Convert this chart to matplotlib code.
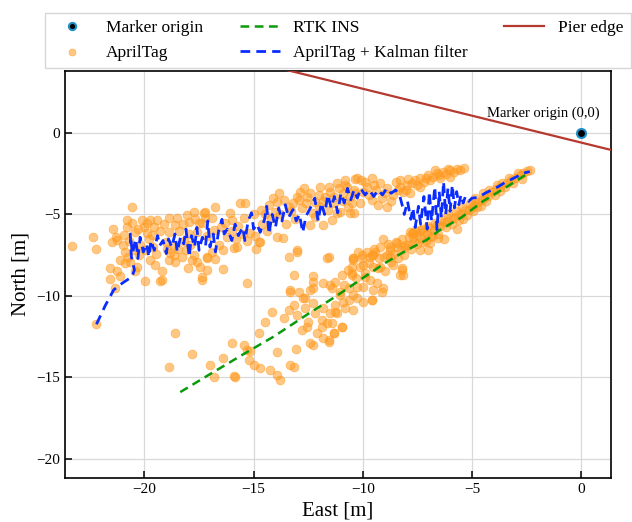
import matplotlib
matplotlib.use("Agg")
import matplotlib.pyplot as plt
import numpy as np

plt.rcParams['font.family'] = ['Liberation Serif', 'DejaVu Serif']
plt.rcParams['mathtext.fontset'] = 'stix'

# ---------------- data ----------------
apriltag_pts = [
    # upper arm, left
    (-23.34,-6.91),(-22.38,-6.38),(-22.2,-7.1),(-22.2,-11.74),(-21.44,-5.87),(-21.5,-6.7),(-21.25,-6.56),
    (-21.59,-8.3),(-21.59,-8.98),(-21.25,-8.5),(-21.33,-9.53),(-21.1,-7.79),(-21.1,-8.77),(-20.95,-6.26),
    (-20.8,-5.34),(-20.57,-4.56),(-20.8,-5.75),(-20.57,-5.54),(-20.64,-7.9),(-20.87,-8.0),(-20.42,-8.5),
    (-20.35,-8.2),(-20.11,-5.34),(-20.04,-5.75),(-19.73,-5.34),(-19.42,-5.34),(-19.57,-5.75),(-19.88,-6.15),
    (-19.96,-7.18),(-19.73,-7.79),(-19.5,-8.1),(-19.96,-9.06),(-19.19,-8.5),(-19.19,-9.02),(-18.89,-5.23),
    (-18.5,-5.23),(-18.58,-5.62),(-18.89,-6.05),(-18.81,-7.38),(-18.89,-7.79),(-18.58,-7.9),(-18.66,-7.5),
    (-18.05,-5.03),(-17.74,-4.83),(-17.97,-5.44),(-18.12,-7.2),(-17.74,-7.5),(-17.59,-7.9),(-17.44,-8.2),
    (-17.36,-8.85),(-17.29,-4.93),(-17.21,-5.23),(-17.13,-7.6),(-17.13,-6.3),
    (-20.7,-6.6),(-20.5,-7.2),(-20.3,-5.9),(-20.2,-6.9),(-19.8,-6.5),(-19.6,-7.0),(-19.3,-6.0),(-19.0,-6.7),
    (-18.7,-6.9),(-18.4,-6.0),(-18.3,-7.6),(-18.2,-6.6),(-17.9,-6.9),(-17.8,-7.8),(-17.6,-6.1),(-17.5,-5.5),
    (-20.9,-7.3),(-21.0,-6.9),(-19.1,-5.6),(-18.0,-8.3),
    (-21.3,-6.4),(-20.75,-7.6),(-20.25,-7.5),(-19.9,-5.55),(-19.45,-7.4),(-18.95,-7.1),(-18.45,-7.1),
    (-18.25,-5.6),(-17.95,-6.2),(-17.7,-5.3),(-20.45,-6.1),(-19.65,-6.25),
    # upper arm, middle
    (-17.21,-4.83),(-16.76,-4.52),(-17.36,-5.54),(-16.83,-5.95),(-16.9,-7.28),(-16.76,-7.75),(-17.13,-7.67),
    (-16.38,-7.18),(-16.38,-8.36),(-15.92,-7.08),(-15.77,-7.0),(-15.61,-4.31),(-15.38,-4.31),(-15.99,-5.34),
    (-15.46,-5.24),(-15.16,-6.15),(-14.77,-6.67),(-14.93,-6.3),(-14.65,-4.72),(-14.31,-4.42),(-13.93,-4.21),
    (-13.86,-3.7),(-13.63,-4.1),(-14.01,-4.83),(-13.93,-6.36),(-13.67,-6.46),(-13.4,-7.59),(-13.02,-7.18),
    (-13.4,-4.52),(-13.02,-3.9),(-12.87,-3.6),(-12.56,-3.9),(-12.41,-3.7),(-12.18,-4.21),(-12.18,-5.13),
    (-12.41,-5.64),(-11.95,-3.29),(-11.57,-3.29),(-11.72,-3.9),(-11.34,-4.31),(-11.19,-4.93),(-11.8,-5.64),
    (-11.42,-5.34),(-11.57,-7.63),(-10.73,-3.29),(-10.42,-3.5),(-10.89,-3.7),(-10.66,-4.52),(-11.04,-4.83),
    (-10.42,-4.93),(-10.35,-2.84),(-10.43,-7.69),(-10.5,-8.71),(-10.66,-8.4),(-13.17,-8.71),(-12.26,-8.8),
    (-17.13,-8.4),
    (-16.5,-5.8),(-16.2,-6.4),(-16.0,-6.0),(-15.7,-5.7),(-15.3,-6.6),(-15.0,-5.0),(-14.6,-5.6),(-14.4,-6.0),
    (-14.2,-5.2),(-13.8,-5.0),(-13.5,-5.6),(-13.3,-4.8),(-13.1,-5.3),(-12.8,-4.6),(-12.6,-4.3),(-12.3,-4.9),
    (-12.0,-4.5),(-11.8,-4.2),(-11.5,-3.6),(-11.3,-3.9),(-11.1,-3.4),(-10.9,-4.2),(-16.6,-6.9),(-15.5,-6.2),
    (-14.9,-7.1),(-16.1,-4.9),
    (-16.9,-5.2),(-16.3,-5.5),(-15.8,-6.5),(-14.5,-5.0),(-13.2,-4.3),(-12.7,-3.4),(-12.0,-3.8),(-11.6,-4.7),
    (-11.2,-3.1),(-10.8,-2.9),(-12.9,-4.1),(-14.1,-4.0),
    # upper arm, right
    (-10.27,-2.78),(-9.59,-2.78),(-9.82,-3.29),(-10.35,-3.7),(-10.5,-4.31),(-10.12,-4.31),(-8.9,-4.52),
    (-9.13,-4.0),(-8.29,-3.29),(-7.99,-3.19),(-7.76,-3.09),(-7.38,-2.78),(-7.0,-2.58),(-6.62,-2.48),
    (-6.31,-2.37),(-5.99,-2.27),(-5.69,-2.23),(-5.38,-2.15),(-7.84,-3.7),(-7.53,-3.19),(-6.92,-2.88),
    (-6.46,-2.78),(-6.0,-2.68),(-8.14,-3.6),
    (-9.9,-3.0),(-9.4,-3.5),(-9.2,-3.1),(-8.9,-3.4),(-8.6,-3.8),(-8.5,-3.0),(-8.7,-4.2),(-10.0,-3.6),
    (-9.6,-4.1),(-7.2,-3.0),(-6.8,-2.7),(-6.2,-2.5),(-5.8,-2.4),(-7.6,-2.9),(-8.0,-3.5),(-10.6,-3.9),
    (-10.58,-4.9),(-10.8,-3.2),(-9.3,-4.4),
    (-9.7,-3.8),(-9.0,-3.7),(-8.4,-3.5),(-8.3,-2.9),(-7.95,-2.85),(-7.4,-3.3),(-7.1,-2.75),(-6.7,-2.3),
    (-6.5,-2.55),(-6.1,-2.2),(-5.55,-2.3),(-9.5,-3.2),(-10.1,-2.9),
    # lower arm, right
    (-2.35,-2.27),(-2.65,-2.47),(-3.03,-2.78),(-3.41,-3.09),(-3.72,-3.29),(-4.1,-3.6),(-4.4,-3.9),
    (-4.71,-4.21),(-5.0,-4.52),(-5.32,-4.72),(-5.63,-5.03),(-6.0,-5.23),(-6.3,-5.44),(-6.6,-5.64),
    (-6.92,-5.84),(-7.23,-6.05),(-7.53,-6.26),(-7.68,-6.46),(-7.84,-6.05),(-8.07,-6.87),(-8.45,-6.97),
    (-8.75,-7.18),(-9.06,-6.52),(-9.43,-7.28),(-9.67,-7.59),(-10.05,-7.69),(-10.43,-7.8),(-10.5,-8.2),
    (-10.12,-8.2),(-6.92,-6.77),(-7.38,-7.18),(-7.76,-6.15),(-5.24,-5.03),(-4.79,-4.52),
    (-2.5,-2.35),(-2.8,-2.6),(-2.9,-2.45),(-3.2,-2.9),(-3.3,-2.75),(-3.6,-3.1),(-3.5,-3.3),(-3.9,-3.45),
    (-3.85,-3.2),(-4.2,-3.5),(-4.25,-3.85),(-4.5,-3.7),(-4.55,-4.1),(-4.85,-4.0),(-4.9,-4.4),(-5.1,-4.3),
    (-5.15,-4.7),(-5.45,-4.55),(-5.5,-4.95),(-5.75,-4.8),(-5.8,-5.2),(-6.1,-5.0),(-6.15,-5.45),(-6.4,-5.25),
    (-6.45,-5.7),(-6.7,-5.5),(-6.75,-5.95),(-7.0,-5.7),(-7.05,-6.2),(-7.3,-5.9),(-7.35,-6.45),(-7.6,-6.0),
    (-7.65,-6.7),(-7.9,-6.4),(-7.95,-6.9),(-8.2,-6.5),(-8.25,-7.2),(-8.5,-6.7),(-8.6,-7.4),(-8.85,-6.8),
    (-8.9,-7.5),(-9.2,-7.0),(-9.25,-7.7),(-9.5,-7.1),(-9.8,-7.3),(-6.55,-6.2),(-7.1,-6.6),(-5.9,-5.6),
    (-5.4,-5.3),(-4.6,-4.5),
    (-3.1,-3.1),(-3.7,-3.55),(-4.35,-4.2),(-4.95,-4.8),(-5.6,-5.35),(-6.2,-5.8),(-6.85,-6.3),(-7.5,-6.8),
    (-8.1,-7.5),(-8.7,-7.9),(-9.3,-8.3),(-9.9,-8.6),(-10.3,-8.9),(-7.8,-7.1),(-6.3,-6.5),(-5.7,-5.9),
    (-8.4,-7.7),(-9.0,-8.5),(-9.7,-8.0),(-10.2,-7.3),(-3.95,-3.8),(-2.7,-2.8),
    # lower arm, middle
    (-7.68,-6.15),(-7.38,-5.95),(-6.92,-6.36),(-7.0,-7.18),(-6.55,-6.46),(-7.23,-6.67),(-8.44,-6.77),
    (-8.06,-6.97),(-8.75,-6.97),(-8.75,-7.59),(-8.22,-8.4),(-8.14,-8.71),(-9.05,-7.59),(-9.21,-8.2),
    (-9.51,-8.2),(-9.58,-7.49),(-10.05,-7.49),(-10.43,-7.69),(-9.97,-8.1),(-9.9,-8.81),(-9.66,-9.02),
    (-9.36,-9.22),(-9.06,-9.53),(-9.13,-9.73),(-9.51,-9.63),(-9.97,-9.43),(-10.28,-9.43),(-10.43,-9.94),
    (-10.5,-8.61),(-10.96,-8.71),(-11.27,-9.12),(-11.49,-9.33),(-10.88,-9.33),(-11.04,-9.73),(-10.65,-10.24),
    (-10.28,-10.14),(-9.97,-10.35),(-9.59,-10.24),(-10.43,-10.86),(-10.81,-10.76),(-11.27,-10.96),
    (-11.42,-11.68),(-10.96,-11.88),(-11.34,-12.29),
    # lower arm, left tail
    (-19.27,-9.06),(-17.36,-9.0),(-15.31,-9.22),(-18.58,-12.29),(-17.82,-13.56),(-18.89,-14.34),
    (-16.99,-14.23),(-16.83,-14.95),(-16.38,-13.82),(-15.99,-12.9),(-15.84,-14.95),(-15.46,-13.0),
    (-15.3,-13.3),(-15.15,-13.4),(-15.23,-13.93),(-15.0,-14.23),(-14.69,-14.43),(-14.24,-14.54),
    (-13.93,-14.85),(-13.78,-15.15),(-14.77,-12.29),(-14.47,-11.57),(-14.16,-10.96),(-13.93,-13.42),
    (-13.63,-11.37),(-13.4,-10.86),(-13.17,-10.55),(-13.02,-11.16),(-12.94,-9.77),(-13.32,-9.77),
    (-12.79,-12.08),(-12.56,-11.88),(-12.49,-11.57),(-13.06,-13.25),(-13.32,-14.23),(-13.17,-14.37),
    (-12.63,-10.14),(-12.41,-9.63),(-12.63,-10.75),(-12.26,-10.45),(-12.18,-11.06),(-12.1,-12.29),
    (-12.41,-12.9),(-12.26,-13.0),(-11.8,-12.59),(-11.57,-12.8),(-11.87,-11.88),(-11.65,-11.68),
    (-11.34,-12.29),(-11.49,-11.06),(-11.19,-11.06),(-10.96,-11.88),(-11.87,-11.47),(-11.8,-10.75),
    (-12.26,-9.53),(-12.3,-9.12),(-11.8,-9.22),(-11.42,-9.53),(-11.04,-9.94),(-10.65,-9.53),(-10.89,-10.35),
    (-11.27,-10.55),
    (-15.92,-14.91),(-14.73,-6.67),(-13.03,-7.28),(-13.32,-9.63),(-12.72,-10.14),(-11.65,-7.69),
    (-11.57,-12.7),(-9.59,-10.24),(-9.51,-7.49),(-8.29,-8.71),(-8.22,-8.3),(-8.6,-8.1),
]
apriltag_east = [p[0] for p in apriltag_pts]
apriltag_north = [p[1] for p in apriltag_pts]

kalman_pts = [
    (-22.2,-11.74),(-21.8,-10.6),(-21.41,-9.63),(-21.0,-9.2),(-20.57,-8.82),(-20.46,-8.4),(-20.6,-7.6),
    (-20.65,-6.2),(-20.55,-7.4),(-20.4,-6.5),(-20.3,-7.7),(-20.2,-6.4),(-20.05,-7.3),(-19.9,-6.8),
    (-19.8,-7.6),(-19.7,-6.6),(-19.55,-7.2),(-19.4,-6.3),(-19.3,-6.9),(-19.15,-6.6),(-19.0,-7.4),
    (-18.9,-6.5),(-18.75,-7.0),(-18.6,-6.2),(-18.5,-7.3),(-18.35,-6.4),(-18.2,-6.8),(-18.1,-5.9),
    (-17.95,-7.6),(-17.85,-6.3),(-17.7,-7.0),(-17.6,-5.8),(-17.5,-7.2),(-17.35,-6.4),(-17.2,-6.9),
    (-17.1,-5.4),(-17.0,-7.0),(-16.85,-6.2),(-16.75,-7.3),(-16.6,-6.0),(-16.45,-5.3),(-16.35,-6.2),
    (-16.2,-5.9),(-16.0,-6.6),(-15.85,-5.6),(-15.7,-6.3),(-15.5,-5.8),(-15.4,-6.6),(-15.25,-5.4),
    (-15.1,-4.9),(-15.0,-5.9),(-14.85,-5.6),(-14.7,-6.1),(-14.5,-5.3),(-14.4,-4.5),(-14.3,-6.2),
    (-14.15,-5.0),(-14.0,-5.8),(-13.85,-4.6),(-13.7,-5.4),(-13.55,-4.4),(-13.4,-5.2),(-13.2,-4.7),
    (-13.05,-5.4),(-12.9,-5.0),(-12.75,-6.1),(-12.6,-5.1),(-12.4,-4.6),(-12.2,-4.0),(-12.05,-5.4),
    (-11.9,-4.3),(-11.75,-5.0),(-11.6,-3.8),(-11.45,-4.6),(-11.3,-3.9),(-11.15,-4.9),(-11.0,-3.7),
    (-10.85,-4.3),(-10.7,-3.4),(-10.55,-4.1),(-10.4,-3.5),(-10.25,-4.0),(-10.1,-3.4),(-9.9,-3.8),
    (-9.7,-3.5),(-9.5,-3.9),(-9.3,-3.5),(-9.1,-3.8),(-8.9,-3.4),(-8.7,-3.7),(-8.5,-3.5),(-8.3,-3.9),
    (-8.2,-4.4),(-8.1,-5.0),(-7.95,-4.2),(-7.8,-5.3),(-7.7,-4.6),(-7.6,-5.8),(-7.45,-4.5),(-7.35,-5.6),
    (-7.2,-3.9),(-7.05,-5.9),(-6.95,-3.6),(-6.85,-5.4),(-6.7,-3.3),(-6.6,-5.95),(-6.5,-3.6),(-6.4,-5.2),
    (-6.3,-3.0),(-6.2,-5.0),(-6.1,-3.4),(-6.0,-4.8),(-5.9,-3.2),(-5.8,-4.6),(-5.7,-3.6),(-5.6,-4.4),
    (-5.5,-3.8),(-5.4,-4.3),(-5.3,-3.9),(-5.15,-4.2),(-5.0,-4.0),(-4.7,-3.95),(-4.4,-3.7),(-4.1,-3.5),
    (-3.8,-3.3),(-3.5,-3.05),(-3.2,-2.85),(-2.9,-2.65),(-2.6,-2.45),(-2.35,-2.37),
]
kalman_east = [p[0] for p in kalman_pts]
kalman_north = [p[1] for p in kalman_pts]

rtk_east = [-18.36, -17.0, -15.5, -14.09, -12.5, -11.2, -10.13, -9.0, -8.0, -7.07, -6.46, -5.5, -4.5, -3.12, -2.4]
rtk_north = [-15.9, -14.8, -13.6, -12.5, -11.1, -10.0, -9.02, -8.0, -7.2, -6.56, -5.95, -5.2, -4.2, -3.07, -2.45]

pier_east = [-15.0, 2.0]
pier_north = [4.36, -1.25]

origin_east = [0.0]
origin_north = [0.0]

x_ticks = [-20, -15, -10, -5, 0]
y_ticks = [0, -5, -10, -15, -20]

# ---------------- figure ----------------
fig = plt.figure(figsize=(6.32, 5.22), dpi=100)
ax = fig.add_axes([65/632, 1-478/522, (611-65)/632, (478-71)/522])

ax.grid(True, color='#d9d9d9', linewidth=0.9, zorder=0)
ax.set_axisbelow(True)

ax.plot(origin_east, origin_north, 'o', color='black', markeredgecolor='#1e90c8',
        markeredgewidth=1.5, markersize=6.5, linestyle='none', label='Marker origin', zorder=6)
ax.scatter(apriltag_east, apriltag_north, s=40, color='#ff9a1f', alpha=0.55,
           edgecolors='#ff9a1f', linewidths=0.6, label='AprilTag', zorder=2)
ax.plot(rtk_east, rtk_north, linestyle='--', color='#0a9a0a', linewidth=1.8,
        dashes=(3.5, 2.2), label='RTK INS', zorder=4)
ax.plot(kalman_east, kalman_north, linestyle='--', color='#0a2cff', linewidth=2.0,
        dashes=(3.5, 2.2), label='AprilTag + Kalman filter', zorder=3)
ax.plot(pier_east, pier_north, color='#b5392e', linewidth=1.6, label='Pier edge', zorder=5)

ax.text(-1.74, 1.23, 'Marker origin (0,0)', ha='center', va='center', fontsize=10.5)

ax.set_xlim(-23.64, 1.37)
ax.set_ylim(-21.17, 3.8)
ax.set_xticks(x_ticks)
ax.set_yticks(y_ticks)
ax.tick_params(direction='in', length=5, width=1.1, labelsize=11, colors='black')
for s in ax.spines.values():
    s.set_linewidth(1.2)

ax.set_xlabel('East [m]', fontsize=15, labelpad=4)
ax.set_ylabel('North [m]', fontsize=15, labelpad=4)

handles, labels = ax.get_legend_handles_labels()
order = ['Marker origin', 'AprilTag', 'RTK INS', 'AprilTag + Kalman filter', 'Pier edge']
hmap = dict(zip(labels, handles))
leg = ax.legend([hmap[k] for k in order], order, loc='lower center', bbox_to_anchor=(0.5, 1.0),
                ncol=3, fontsize=12.5, frameon=True, fancybox=False, edgecolor='#cccccc',
                handlelength=2.3, columnspacing=2.1, borderaxespad=0.2, markerscale=0.8)
leg.get_frame().set_linewidth(1.0)

fig.savefig('out.png', dpi=100)
